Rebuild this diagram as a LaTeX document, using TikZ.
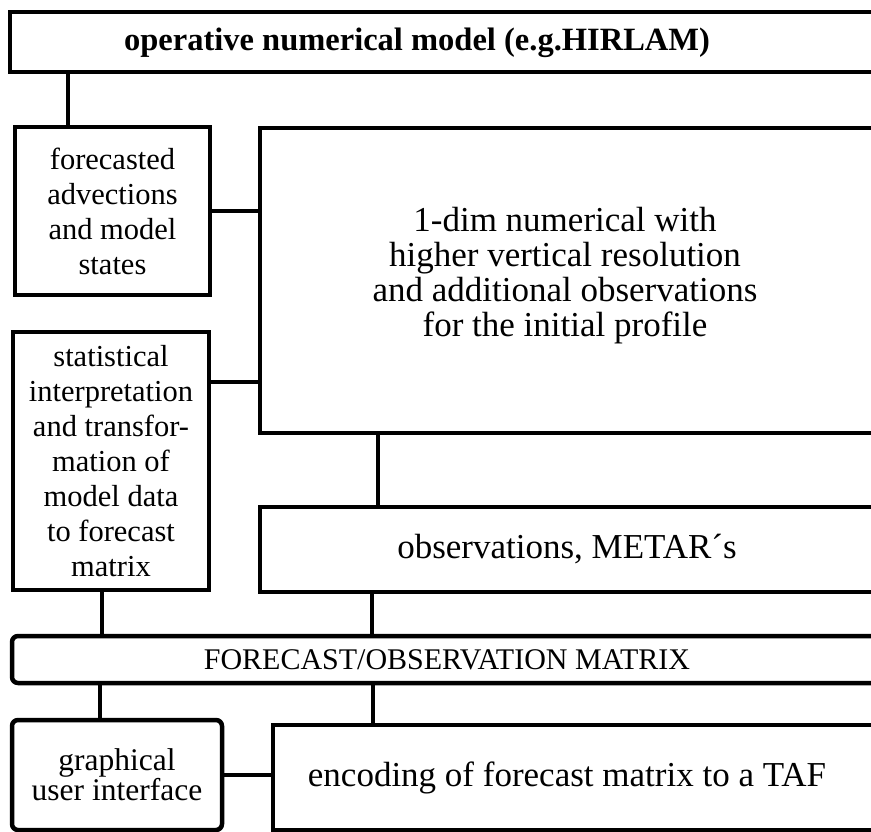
\documentclass[tikz,border=0pt]{standalone}
\usepackage{fontspec}
\setmainfont{Liberation Serif}
\begin{document}
\begin{tikzpicture}[x=1pt,y=-1pt,
    box/.style={draw, line width=4.5pt, outer sep=0pt, inner sep=0pt, anchor=north west},
    rbox/.style={box, rounded corners=6pt},
    txt/.style={font=\fontsize{30.5}{35}\selectfont, align=center, inner sep=0pt},
    bigtxt/.style={txt, font=\fontsize{35}{35}\selectfont},
    link/.style={line width=4.5pt}]
    \useasboundingbox (0,0) rectangle (871,832);

    % Operative model (runs off the right edge)
    \node[box, minimum width=890, minimum height=60] (opmodel) at (10,12) {};
    \node[txt, font=\fontsize{32.5}{35}\selectfont\bfseries] (opmodel-t) at (417,43) {operative numerical model (e.g.HIRLAM)};

    % Left column
    \node[box, minimum width=195, minimum height=168, txt] (fcadv) at (15,127) {forecasted\\advections\\and model\\states};
    \node[box, minimum width=196, minimum height=258, txt] (stat) at (13,332) {statistical\\interpretation\\and transfor-\\mation of\\model data\\to forecast\\matrix};

    % 1-dim model and observations
    \node[box, minimum width=640, minimum height=305] (onedim) at (260,128) {};
    \node[bigtxt] (onedim-t) at (565,276) {1-dim numerical with\\higher vertical resolution\\and additional observations\\for the initial profile};
    \node[box, minimum width=640, minimum height=85] (obs) at (260,507) {};
    \node[bigtxt] (obs-t) at (567,549) {observations, METAR´s};

    % Matrix
    \node[rbox, minimum width=888, minimum height=47] (matrix) at (12,636) {};
    \node[txt, font=\fontsize{30}{30}\selectfont] (matrix-t) at (447,660) {FORECAST/OBSERVATION MATRIX};

    % Interface and encoding
    \node[rbox, minimum width=210, minimum height=110, txt, font=\fontsize{31.5}{30}\selectfont] (gui) at (12,720) {graphical\\user interface};
    \node[box, minimum width=627, minimum height=105] (encode) at (273,725) {};
    \node[bigtxt] (encode-t) at (567,778) {encoding of forecast matrix to a TAF};

    % Connectors
    \coordinate (j1) at ([xshift=53pt]fcadv.north west);
    \draw[link] (j1) -- (j1 |- opmodel.south);
    \draw[link] (fcadv.east) -- (fcadv.east -| onedim.west);
    \coordinate (j2) at ([yshift=-50pt]stat.north east);
    \draw[link] (j2) -- (j2 -| onedim.west);
    \coordinate (j3) at ([xshift=118pt]onedim.south west);
    \draw[link] (j3) -- (j3 |- obs.north);
    \coordinate (j4) at ([xshift=-9pt]stat.south);
    \draw[link] (j4) -- (j4 |- matrix.north);
    \coordinate (j5) at ([xshift=112pt]obs.south west);
    \draw[link] (j5) -- (j5 |- matrix.north);
    \coordinate (j6) at ([xshift=88pt]gui.north west);
    \draw[link] (j6) -- (j6 |- matrix.south);
    \coordinate (j7) at ([xshift=100pt]encode.north west);
    \draw[link] (j7) -- (j7 |- matrix.south);
    \draw[link] (gui.east) -- (gui.east -| encode.west);
\end{tikzpicture}
\end{document}
